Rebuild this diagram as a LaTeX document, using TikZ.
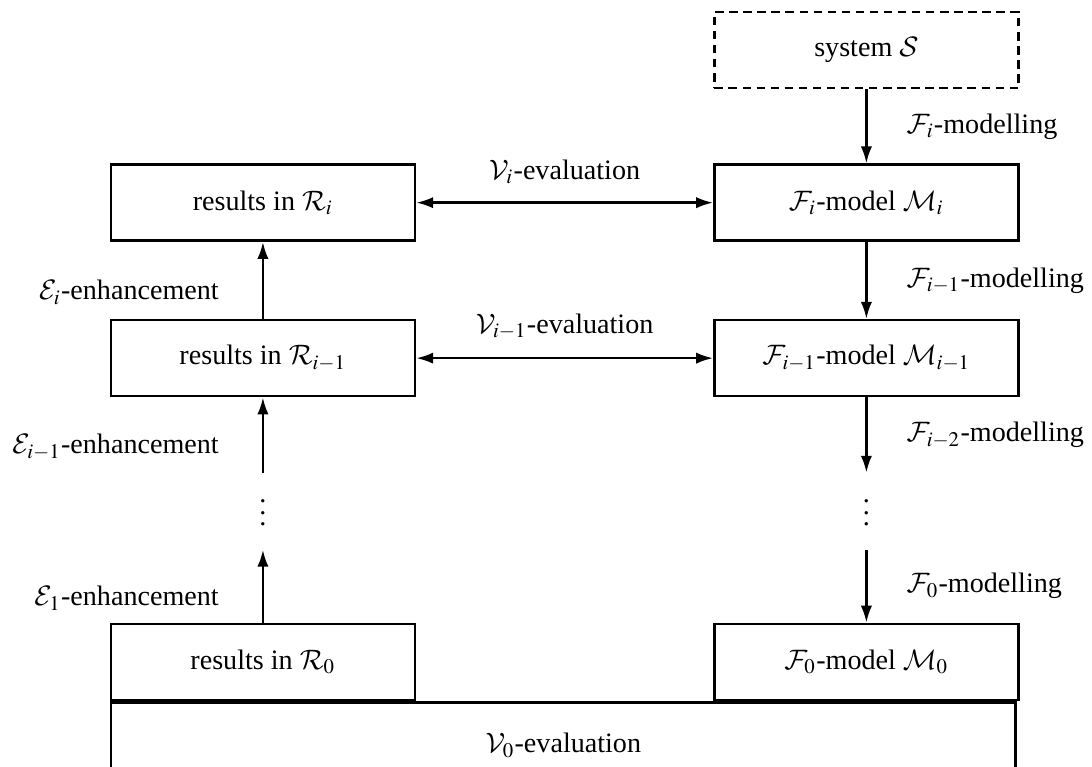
\documentclass[tikz,border=0pt]{standalone}
\usepackage{mathptmx}
\usepackage[no-math]{fontspec}
\setmainfont{Liberation Serif}
\DeclareMathAlphabet{\mathcal}{OMS}{cmsy}{m}{n}
\usetikzlibrary{arrows.meta, positioning, calc}

\begin{document}
\begin{tikzpicture}[
   node distance = 0.95cm,
   box/.style = {draw, rectangle, line width=0.95pt, minimum width=3.8cm, minimum height=0.95cm, inner sep=0pt},
   sysbox/.style = {box, dash pattern=on 3pt off 2pt},
   bigbox/.style = {draw, rectangle, line width=0.95pt, minimum width=11.31cm, minimum height=1.07cm, anchor=north west},
   dotsbox/.style = {rectangle, minimum height=0.95cm, inner sep=0pt},
   line/.style = {draw, -{Latex[length=6pt, width=4pt]}, line width=0.85pt},
   dline/.style = {draw, {Latex[length=6pt, width=4pt]}-{Latex[length=6pt, width=4pt]}, line width=0.85pt}
   ]
  \useasboundingbox (0,0) rectangle (13.65,-9.5875);

  % System box
  \node[sysbox] (system) at (10.83,-0.625) {system $\mathcal{S}$};

  % Model column
  \node[box, below=0.925cm of system] (modeli) {$\mathcal{F}_i$-model $\mathcal{M}_i$};
  \node[box, below=0.96cm of modeli] (modelim) {$\mathcal{F}_{i-1}$-model $\mathcal{M}_{i-1}$};
  \node[dotsbox, below=0.94cm of modelim] (mdots) {\raisebox{5pt}{$\vdots$}};
  \node[box, below=0.91cm of mdots] (modelzero) {$\mathcal{F}_0$-model $\mathcal{M}_0$};

  % Results column
  \node[box, left=3.71cm of modeli] (resi) {results in $\mathcal{R}_i$};
  \node[box, left=3.71cm of modelim] (resim) {results in $\mathcal{R}_{i-1}$};
  \node[dotsbox, below=0.94cm of resim] (rdots) {\raisebox{5pt}{$\vdots$}};
  \node[box, left=3.71cm of modelzero] (reszero) {results in $\mathcal{R}_0$};

  % Evaluation box
  \node[bigbox] (evalzero) at (reszero.south west) {$\mathcal{V}_0$-evaluation};

  % Arrows
  \draw[line] (system) -- (modeli) node[midway, right=0.37cm] {$\mathcal{F}_i$-modelling};
  \draw[line] (modeli) -- (modelim) node[midway, right=0.37cm] {$\mathcal{F}_{i-1}$-modelling};
  \draw[line] (modelim) -- (mdots) node[midway, right=0.37cm] {$\mathcal{F}_{i-2}$-modelling};
  \draw[line] (mdots) -- (modelzero) node[midway, right=0.37cm] {$\mathcal{F}_0$-modelling};
  \draw[line] (resim) -- (resi) node[midway, left=0.42cm, yshift=-0.15cm] {$\mathcal{E}_i$-enhancement};
  \draw[line] (rdots) -- (resim) node[midway, left=0.42cm, yshift=-0.15cm] {$\mathcal{E}_{i-1}$-enhancement};
  \draw[line] (reszero) -- (rdots) node[midway, left=0.42cm, yshift=-0.15cm] {$\mathcal{E}_1$-enhancement};
  \draw[dline] (resi) -- (modeli) node[midway, above=0.1cm] {$\mathcal{V}_i$-evaluation};
  \draw[dline] (resim) -- (modelim) node[midway, above=0.1cm] {$\mathcal{V}_{i-1}$-evaluation};
\end{tikzpicture}
\end{document}
